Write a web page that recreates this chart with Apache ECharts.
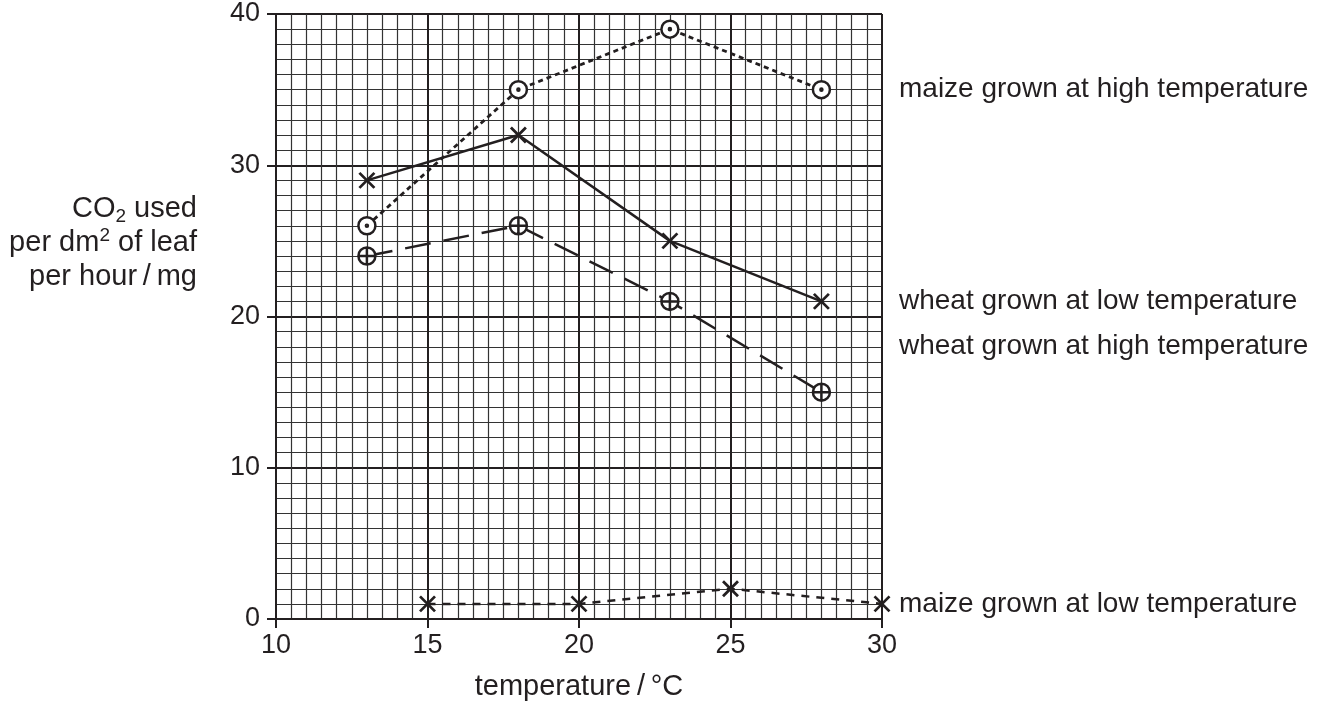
<!DOCTYPE html>
<html>
<head>
<meta charset="utf-8">
<script src="https://cdn.jsdelivr.net/npm/echarts@6/dist/echarts.min.js"></script>
<style>
html,body{margin:0;padding:0;background:#fff;}
#chart{width:1335px;height:706px;}
</style>
</head>
<body>
<div id="chart"></div>
<script>
// ---- data ----
const tempsA = [13, 18, 23, 28];
const maizeHigh = [26, 35, 39, 35];
const wheatLow = [29, 32, 25, 21];
const wheatHigh = [24, 26, 21, 15];
const tempsB = [15, 20, 25, 30];
const maizeLow = [1, 1, 2, 1];
const labelNames = ['maize grown at high temperature', 'wheat grown at low temperature', 'wheat grown at high temperature', 'maize grown at low temperature'];
const labelLevels = [35, 21, 18, 1];
const labelAtX = 30;
const xTitle = 'temperature\u2009/\u2009°C';

// ---- styling ----
const INK = '#231f20';
const FONT = 'Liberation Sans, Arial, sans-serif';
const FS = 27;
const SYM_CIRCLE_DOT = 'path://M10 0A10 10 0 1 1 -10 0A10 10 0 1 1 10 0ZM1.2 0A1.2 1.2 0 1 1 -1.2 0A1.2 1.2 0 1 1 1.2 0Z';
const SYM_CIRCLE_PLUS = 'path://M10 0A10 10 0 1 1 -10 0A10 10 0 1 1 10 0ZM-10 0L10 0M0 -10L0 10';
const SYM_CROSS = 'path://M-10 -10L10 10M10 -10L-10 10';

function pairs(xs, ys) { return xs.map((x, i) => [x, ys[i]]); }

const chart = echarts.init(document.getElementById('chart'), null, {renderer: 'canvas'});

function lineSeries(name, xs, ys, symbol, size, lineType, width) {
  const isCross = symbol === SYM_CROSS;
  return {
    name: name,
    type: 'line',
    data: pairs(xs, ys),
    symbol: symbol,
    symbolSize: size,
    clip: false,
    z: 5,
    lineStyle: {color: INK, width: width, type: lineType},
    itemStyle: {color: isCross ? 'transparent' : '#fff', borderColor: INK, borderWidth: isCross ? 2.8 : 2.5, opacity: 1},
    emphasis: {disabled: true},
    animation: false
  };
}

const option = {
  animation: false,
  backgroundColor: '#fff',
  grid: {left: 276, right: 453, top: 14, bottom: 86, containLabel: false},
  xAxis: {
    type: 'value', min: 10, max: 30, interval: 5,
    name: xTitle, nameLocation: 'middle', nameGap: 53,
    nameTextStyle: {fontFamily: FONT, fontSize: 29, color: INK},
    axisLine: {show: true, onZero: false, lineStyle: {color: INK, width: 2}},
    axisTick: {show: true, inside: false, length: 9, lineStyle: {color: INK, width: 2}},
    axisLabel: {fontFamily: FONT, fontSize: FS, color: INK, margin: 13},
    splitLine: {show: true, lineStyle: {color: INK, width: 2}},
    minorTick: {show: false, splitNumber: 10},
    minorSplitLine: {show: true, lineStyle: {color: '#333', width: 1.2}}
  },
  yAxis: {
    type: 'value', min: 0, max: 40, interval: 10,
    axisLine: {show: true, onZero: false, lineStyle: {color: INK, width: 2}},
    axisTick: {show: true, inside: false, length: 9, lineStyle: {color: INK, width: 2}},
    axisLabel: {fontFamily: FONT, fontSize: FS, color: INK, margin: 16},
    splitLine: {show: true, lineStyle: {color: INK, width: 2}},
    minorTick: {show: false, splitNumber: 10},
    minorSplitLine: {show: true, lineStyle: {color: '#333', width: 1.2}}
  },
  graphic: [{
    type: 'text',
    x: 197, y: 243,
    style: {
      text: '{a|CO}{sub|2}{a| used}\n{a|per dm}{sup|2}{a| of leaf}\n{a|per hour\u2009/\u2009mg}',
      align: 'right', verticalAlign: 'middle',
      fill: INK,
      rich: {
        a: {fontFamily: FONT, fontSize: 29, lineHeight: 34, fill: INK, color: INK},
        sub: {fontFamily: FONT, fontSize: 19, lineHeight: 16, verticalAlign: 'bottom', fill: INK, color: INK},
        sup: {fontFamily: FONT, fontSize: 19, lineHeight: 24, verticalAlign: 'top', fill: INK, color: INK}
      }
    }
  }],
  series: [
    lineSeries('maize high', tempsA, maizeHigh, SYM_CIRCLE_DOT, 17, [5, 4], 2.8),
    lineSeries('wheat low', tempsA, wheatLow, SYM_CROSS, 15, 'solid', 2.5),
    lineSeries('wheat high', tempsA, wheatHigh, SYM_CIRCLE_PLUS, 17, [26, 13], 2.5),
    lineSeries('maize low', tempsB, maizeLow, SYM_CROSS, 15, [8, 7], 2.5),
    {
      name: 'labels',
      type: 'scatter',
      symbolSize: 0,
      clip: false,
      itemStyle: {opacity: 1, color: INK},
      data: labelNames.map((n, i) => ({value: [labelAtX, labelLevels[i]], name: n})),
      label: {show: true, position: 'right', distance: 17, formatter: p => p.name,
              fontFamily: FONT, fontSize: 28, color: INK, opacity: 1},
      emphasis: {disabled: true},
      silent: true
    }
  ]
};
chart.setOption(option);
</script>
</body>
</html>
